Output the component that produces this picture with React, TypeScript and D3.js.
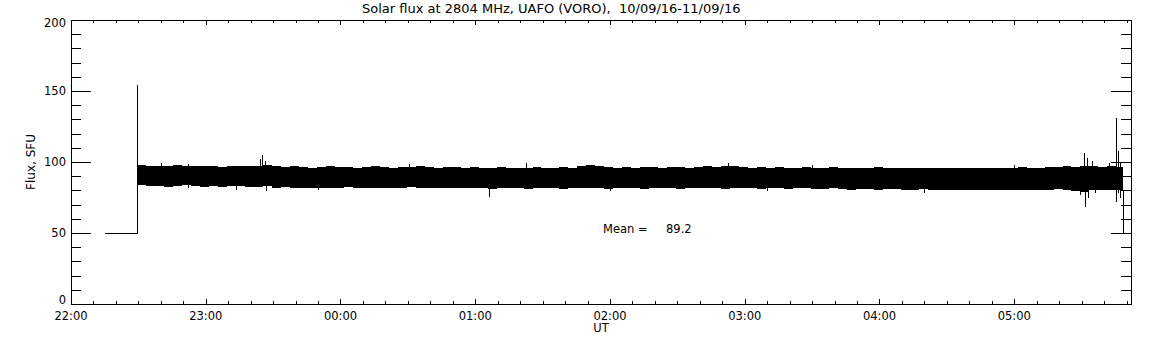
import React from "react";
import * as d3 from "d3";

const width = 1152;
const height = 345;

const title = "Solar flux at 2804 MHz, UAFO (VORO),  10/09/16-11/09/16";
const yTitle = "Flux, SFU";
const xTitle = "UT";
const meanText = "Mean =";
const meanValue = "89.2";

// time is minutes after 22:00 UT
const timeDomain = [0, 472];
const fluxDomain = [0, 200];
const hourTicks = [0, 60, 120, 180, 240, 300, 360, 420];
const hourLabels = ["22:00", "23:00", "00:00", "01:00", "02:00", "03:00", "04:00", "05:00"];
const fluxTicks = [0, 50, 100, 150, 200];

// calibration step before the record and drop at the end
const leadIn = [
  [14.8, 50],
  [29.5, 50],
  [29.5, 155],
];
const tailOut = [
  [468.3, 81],
  [468.3, 50],
];

// noise band, envelope read every 4 minutes
const bandStart = 29.5;
const bandStep = 4;
const bandEnd = 468.3;
const bandUpper = [
  98, 97.5, 97, 97.5, 98, 97.5, 97, 97.5, 97, 96.5, 97, 97.5, 97, 97.5, 98,
  97, 96.5, 97, 96.5, 96, 96.5, 97, 96.5, 96.5, 96, 96.5, 97, 96.5, 96, 96.5, 96.5, 97, 96.5, 96, 96.5, 96.5, 96, 96.5,
  96, 96, 96.5, 96, 95.5, 96, 96.5, 96, 96, 96.5, 96, 97, 98, 97.5, 96.5, 96, 96.5, 96, 96.5,
  96.5, 96, 96.5, 96.5, 96, 96.5, 97, 96.5, 97, 97.5, 96.5, 96, 96.5, 96, 96.5, 96, 96, 96.5, 96,
  96, 96.5, 96, 96, 95.5, 96, 96.5, 96, 95.5, 96, 96, 95.5, 96, 95.5, 96, 95.5, 96, 96, 95.5, 96,
  96, 96, 96.5, 96, 96, 96.5, 96.5, 97, 96.5, 97.5, 97, 96.5, 97, 96.5,
];
const bandLower = [
  83.5, 83, 83, 82.5, 83, 83.5, 83, 82.5, 83, 82.5, 83, 83, 82.5, 82.5, 83,
  82, 82.5, 82, 81.5, 82, 82, 81.5, 82, 82.5, 82, 81.5, 82, 82, 81.5, 82, 82.5, 82, 81.5, 82, 82, 81.5, 82, 82,
  81.5, 81, 81.5, 82, 81.5, 81, 81.5, 82, 81.5, 81, 81.5, 82, 81.5, 81.5, 81, 81.5, 82, 81.5, 81,
  81.5, 82, 81.5, 81, 81.5, 82, 81.5, 81.5, 81, 81.5, 82, 81.5, 81, 81.5, 81.5, 81, 81.5, 81.5, 81,
  81, 81.5, 81, 80.5, 81, 81, 80.5, 81, 81, 80.5, 80.5, 81, 80.5, 80, 80.5, 80.5, 80, 80.5, 80.5, 80,
  80.5, 80, 80.5, 80.5, 80, 80.5, 81, 80.5, 79.5, 79, 80, 80.5, 80, 80,
];

// single excursions outside the band: [minute, low, high]
const spikes = [
  [40, 84, 99],
  [52, 82, 98.5],
  [73.5, 80.5, 90],
  [84, 90, 102],
  [85.2, 88, 105],
  [86.3, 90, 101],
  [87, 79.5, 90],
  [110, 80.5, 90],
  [150.6, 90, 98.4],
  [186, 75.6, 88],
  [202.5, 90, 99.5],
  [240, 79.5, 90],
  [292.5, 90, 99],
  [310, 79.5, 90],
  [330, 90, 98],
  [380, 78.5, 90],
  [420, 90, 98],
  [449.5, 77, 90],
  [451, 90, 106],
  [451.5, 68, 85],
  [452.5, 88, 103],
  [453, 74.4, 85],
  [454.5, 90, 101],
  [456, 78, 90],
  [462, 90, 99],
  [465.3, 72, 131],
  [466.4, 78, 108],
  [466.9, 75, 100],
];

const left = 71;
const right = 1131;
const top = 20;
const bottom = 304;

export default function App() {
  const x = d3.scaleLinear().domain(timeDomain).range([left, right]);
  const y = d3.scaleLinear().domain(fluxDomain).range([bottom, top]);

  const minorTime = d3.range(0, timeDomain[1] + 0.1, 10).filter((t) => t % 60 !== 0);
  const minorFlux = y.ticks(20).filter((v) => v % 50 !== 0);

  const band = bandUpper.map((u, i) => ({ t: bandStart + i * bandStep, hi: u, lo: bandLower[i] }));
  band.push({ t: bandEnd, hi: bandUpper[bandUpper.length - 1], lo: bandLower[bandLower.length - 1] });

  const area = d3
    .area<{ t: number; hi: number; lo: number }>()
    .x((d) => x(d.t))
    .y0((d) => y(d.lo))
    .y1((d) => y(d.hi))
    .curve(d3.curveStepAfter);

  const line = d3
    .line<number[]>()
    .x((d) => Math.round(x(d[0])) + 0.5)
    .y((d) => Math.round(y(d[1])) + 0.5);

  const px = (v: number) => Math.round(v) + 0.5;

  return (
    <svg
      width={width}
      height={height}
      style={{ position: "absolute", left: 0, top: 0, background: "#fff" }}
      fontFamily="DejaVu Sans"
    >
      <rect x={0} y={0} width={width} height={height} fill="#fff" />
      <text x={362} y={13} fontSize={13} fill="#000" style={{ whiteSpace: "pre" }}>
        {title}
      </text>

      <g stroke="#000" strokeWidth={1} shapeRendering="crispEdges" fill="none">
        <rect x={px(left)} y={px(top)} width={right - left} height={bottom - top} />
        {fluxTicks.map((v) => (
          <g key={"fm" + v}>
            <line x1={left} x2={left + 20} y1={px(y(v))} y2={px(y(v))} />
            <line x1={right - 20} x2={right} y1={px(y(v))} y2={px(y(v))} />
          </g>
        ))}
        {minorFlux.map((v) => (
          <g key={"fn" + v}>
            <line x1={left} x2={left + 10} y1={px(y(v))} y2={px(y(v))} />
            <line x1={right - 10} x2={right} y1={px(y(v))} y2={px(y(v))} />
          </g>
        ))}
        {hourTicks.map((t) => (
          <g key={"hm" + t}>
            <line x1={px(x(t))} x2={px(x(t))} y1={bottom} y2={bottom - 5} />
            <line x1={px(x(t))} x2={px(x(t))} y1={top} y2={top + 5} />
          </g>
        ))}
        {minorTime.map((t) => (
          <g key={"hn" + t}>
            <line x1={px(x(t))} x2={px(x(t))} y1={bottom} y2={bottom - 3} />
            <line x1={px(x(t))} x2={px(x(t))} y1={top} y2={top + 3} />
          </g>
        ))}
      </g>

      <g fontSize={11.5} fill="#000">
        {fluxTicks.map((v) => (
          <text key={"fl" + v} x={66} y={Math.min(Math.max(y(v), top + 3), bottom - 4) + 4} textAnchor="end">
            {v}
          </text>
        ))}
        {hourTicks.map((t, i) => (
          <text key={"hl" + t} x={x(t)} y={320} textAnchor="middle">
            {hourLabels[i]}
          </text>
        ))}
        <text x={(left + right) / 2} y={332} textAnchor="middle">
          {xTitle}
        </text>
        <text x={603} y={233}>
          {meanText}
        </text>
        <text x={666} y={233}>
          {meanValue}
        </text>
      </g>
      <text x={31} y={162} fontSize={12} fill="#000" textAnchor="middle" transform="rotate(-90 31 162)" dy={4}>
        {yTitle}
      </text>

      <path d={area(band) || ""} fill="#000" shapeRendering="crispEdges" />
      <g stroke="#000" strokeWidth={1} shapeRendering="crispEdges" fill="none">
        <path d={line(leadIn) || ""} />
        <path d={line(tailOut) || ""} />
        {spikes.map((s, i) => (
          <line key={"s" + i} x1={px(x(s[0]))} x2={px(x(s[0]))} y1={y(s[1])} y2={y(s[2])} />
        ))}
      </g>
    </svg>
  );
}
